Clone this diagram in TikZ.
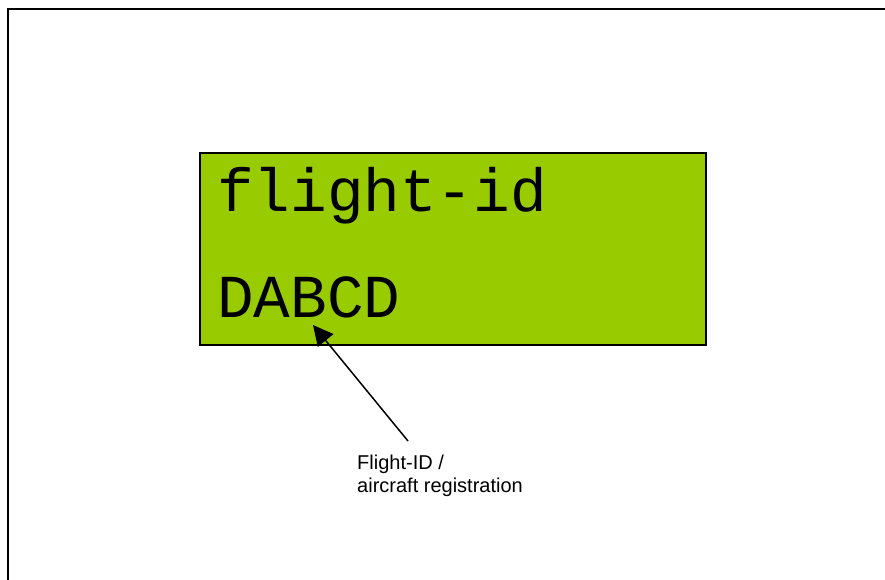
\documentclass[tikz,border=0pt]{standalone}
\usepackage{fontspec}
\setmainfont{Liberation Sans}
\newfontfamily\lcdfont{Liberation Mono}
\usetikzlibrary{arrows.meta, positioning}
\definecolor{lcdGreen}{RGB}{153,204,0}
\tikzset{
    lcdPanel/.style={
        draw=black,
        fill=lcdGreen,
        line width=1.5pt
    },
    lcdText/.style={
        font=\lcdfont\fontsize{61}{61}\selectfont,
        inner sep=0pt,
        anchor=base west
    },
    noteText/.style={
        font=\fontsize{20}{23}\selectfont,
        align=left,
        inner sep=0pt,
        anchor=north west
    }
}

\begin{document}
\begin{tikzpicture}[x=1pt, y=-1pt, >={Triangle[length=20pt, width=20pt]}]
            % Page area
            \useasboundingbox (0,0) rectangle (885,580);
            \fill[white] (0,0) rectangle (885,580);
            \clip (0,0) rectangle (885,580);
            \draw[line width=2pt] (8,9) rectangle (895,595);

            % Display
            \draw[lcdPanel] (200,153) rectangle (706,345);
            \node[lcdText] (line1) at (217,211) {flight-id};
            \node[lcdText] (line2) at (217,317) {DABCD};

            % Callout
            \coordinate (tip) at (313,325);
            \coordinate (tail) at (408,441);
            \node[noteText] (note) at (357,455) {Flight-ID /\\aircraft registration};
            \draw[->, line width=1.5pt] (tail) -- (tip);
        \end{tikzpicture}
\end{document}
